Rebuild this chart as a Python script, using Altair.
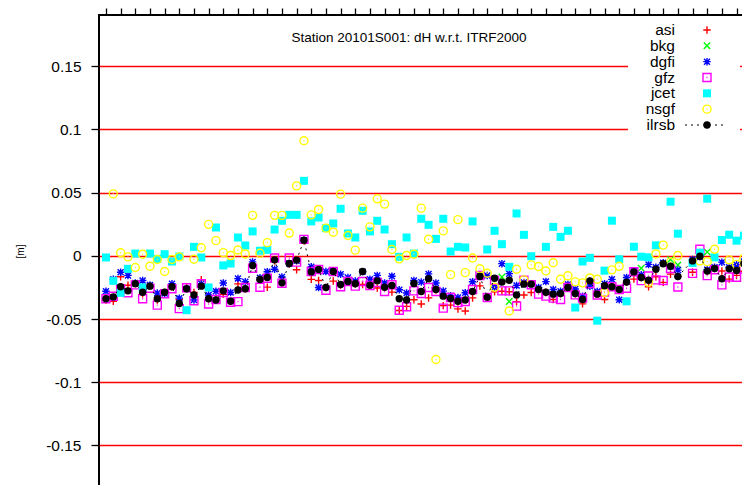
import altair as alt
import pandas as pd

# ---------------- data ----------------
weeks = list(range(88))

asi = [-0.035, -0.036, -0.0165, -0.0233, -0.022, -0.03, -0.024, -0.035, -0.029, -0.0245,
       -0.0345, -0.0245, -0.029, -0.019, -0.034, -0.035, -0.0305, -0.036, -0.0222, -0.026,
       -0.0077, -0.019, -0.0248, -0.004, -0.0214, -0.0065, -0.011, 0.012, -0.0186, -0.0195,
       -0.025, -0.02, -0.023, -0.0205, -0.022, -0.0227, -0.0232, -0.0255, -0.025, -0.0287,
       -0.0432, -0.04, -0.0347, -0.0381, -0.0333, -0.027, -0.0394, -0.039, -0.042, -0.0437,
       -0.0333, -0.0238, -0.033, -0.0285, -0.028, -0.0284, -0.0362, -0.031, -0.029, -0.0266,
       -0.0288, -0.0345, -0.03, -0.025, -0.03, -0.038, -0.02, -0.0303, -0.0345, -0.0245,
       -0.0266, -0.021, -0.0184, -0.0171, -0.0245, -0.0166, -0.021, -0.0145, -0.0163, None,
       -0.013, -0.0003, -0.0121, -0.01, -0.012, -0.0184, -0.0155, -0.0122]

bkg_weeks = [54, 55, 73, 77, 78, 82]
bkg = [-0.0168, -0.0362, -0.0099, -0.003, -0.0072, 0.003]

dgfi = [-0.028, -0.0185, -0.013, -0.0155, -0.0215, -0.0195, -0.023, -0.0295, -0.0298, -0.022,
        -0.0335, -0.0261, -0.035, -0.022, -0.031, -0.028, -0.0215, -0.029, -0.018, -0.0205,
        -0.0048, -0.0173, -0.0126, -0.0106, -0.0168, -0.0061, -0.004, 0.0124, -0.0087, -0.025,
        -0.0124, -0.012, -0.0145, -0.0171, -0.02, -0.0125, -0.0185, -0.0155, -0.0214, -0.0162,
        -0.0268, -0.0294, -0.0195, -0.0208, -0.0143, -0.0215, -0.0279, -0.0315, -0.033, -0.0292,
        -0.0205, -0.016, -0.0155, -0.0249, -0.0062, -0.0141, -0.0234, -0.021, -0.022, -0.025,
        -0.0204, -0.0267, -0.028, -0.0225, -0.0262, -0.032, -0.024, -0.0282, -0.022, -0.0186,
        -0.0347, -0.0171, -0.012, -0.015, -0.0068, -0.009, -0.0055, -0.0085, -0.0113, None,
        -0.0029, -0.001, -0.011, -0.009, -0.005, -0.009, -0.0071, -0.0045]

gfz = [-0.034, -0.032, -0.026, -0.0292, -0.023, -0.034, -0.0256, -0.039, -0.03, -0.026,
       -0.0418, -0.0252, -0.0355, -0.022, -0.0381, -0.0345, -0.029, -0.0367, -0.0362, -0.025,
       -0.0098, -0.0249, -0.0177, -0.0017, -0.0217, -0.0017, -0.005, 0.013, -0.0124, -0.0108,
       -0.0272, -0.0124, -0.0245, -0.0203, -0.024, -0.0203, -0.0235, -0.021, -0.0282, -0.0229,
       -0.043, -0.0403, -0.0277, -0.0298, -0.025, -0.0282, -0.0414, -0.033, -0.037, -0.0361,
       -0.0266, -0.0156, -0.033, -0.0193, -0.0277, -0.0277, -0.0398, -0.0193, -0.0229, -0.0303,
       -0.0319, -0.0335, -0.0345, -0.025, -0.0309, -0.0335, -0.022, -0.031, -0.0287, -0.0245,
       -0.0266, -0.0256, -0.0126, -0.0196, -0.016, -0.019, -0.0195, -0.01, -0.0247, None,
       -0.0139, 0.0052, -0.0157, -0.011, -0.023, -0.0168, -0.017, -0.0104]

jcet = [-0.0013, -0.0198, -0.0293, -0.0103, 0.0018, -0.025, 0.0018, -0.0024, 0.0013, -0.0045,
        -0.0005, -0.043, 0.0071, -0.0013, -0.025, 0.0224, -0.0076, -0.0061, 0.0145, 0.0082,
        0.0193, 0.004, 0.0047, 0.0208, 0.0277, 0.0324, 0.0324, 0.0593, 0.0272, 0.0303,
        0.0219, 0.0256, 0.0372, 0.0177, 0.0145, 0.0356, 0.0193, 0.0277, 0.0208, 0.0092,
        -0.0008, 0.0145, 0.0018, 0.0293, 0.0245, 0.0134, 0.0293, 0.0034, 0.0071, 0.0066,
        0.0272, None, 0.005, 0.0198, 0.0092, -0.0087, 0.0335, 0.0166, -0.0003, None,
        0.0071, 0.0229, 0.015, 0.0198, -0.0409, -0.0045, -0.0016, -0.0513, -0.0117, 0.0278,
        -0.0027, -0.036, 0.0072, -0.0007, -0.0012, 0.0083, None, 0.0428, 0.0175, None,
        -0.0056, 0.0025, 0.0452, -0.0012, 0.0125, 0.0167, 0.012, 0.016]

nsgf = [None, 0.049, 0.0024, -0.0008, -0.0092, 0.0013, -0.0082, -0.0029, -0.0124, -0.0029,
        -0.0008, None, -0.0027, 0.0064, 0.0249, 0.012, 0.0025, 0.0002, 0.0046, 0.0015,
        0.032, 0.002, 0.0104, 0.032, 0.032, 0.018, 0.0553, 0.091, 0.0324, 0.0367,
        0.0219, 0.0187, 0.0488, 0.0161, 0.0045, 0.0377, 0.0229, 0.0451, 0.0409, 0.005,
        -0.0024, 0.0003, 0.0013, 0.0377, 0.0131, -0.082, 0.0197, -0.0149, 0.0286, -0.0133,
        -0.0017, -0.0102, -0.0138, -0.0249, None, -0.0436, -0.0106, -0.019, -0.0072, -0.0085,
        -0.012, -0.0055, -0.0185, -0.0158, -0.0206, -0.0214, -0.0175, -0.0185, -0.029, -0.0111,
        -0.0083, None, None, None, -0.021, 0.0015, 0.0085, -0.005, 0.0002, None,
        None, -0.004, -0.0046, 0.0052, None, -0.0032, -0.0068, -0.002]

ilrsb = [-0.034, -0.0325, -0.0245, -0.0277, -0.022, -0.0288, -0.024, -0.034, -0.0288, -0.0245,
         -0.0377, -0.026, -0.031, -0.024, -0.034, -0.035, -0.0277, -0.036, -0.027, -0.026,
         -0.0077, -0.0187, -0.0171, -0.0032, -0.0214, -0.0061, -0.0034, 0.0124, -0.0127, -0.0108,
         -0.025, -0.0124, -0.0227, -0.0203, -0.0221, -0.0124, -0.0232, -0.0198, -0.0248, -0.0235,
         -0.034, -0.035, -0.0219, -0.0282, -0.0182, -0.0266, -0.0319, -0.0337, -0.036, -0.035,
         -0.0282, -0.0163, -0.0327, -0.0177, -0.0208, -0.0193, -0.0309, -0.0224, -0.0224, -0.0266,
         -0.0288, -0.0303, -0.0298, -0.025, -0.0298, -0.0345, -0.0198, -0.0303, -0.0237, -0.0245,
         -0.0266, -0.0208, -0.0127, -0.0171, -0.0193, -0.0106, -0.0063, -0.0082, -0.0163, None,
         -0.004, -0.0003, -0.0121, -0.01, -0.0182, -0.0103, -0.0116, -0.0061]

series_names = ["asi", "bkg", "dgfi", "gfz", "jcet", "nsgf", "ilrsb"]
y_ticks = [-0.15, -0.1, -0.05, 0, 0.05, 0.1, 0.15]
x_ticks = list(range(0, 88, 2))
title_text = "Station 20101S001: dH w.r.t. ITRF2000"

# ---------------- styling ----------------
FONT = "Liberation Sans"
PLUS = "M-1,0L1,0M0,-1L0,1"
XSHAPE = "M-1,-1L1,1M-1,1L1,-1"
STAR = "M-1,0L1,0M0,-1L0,1M-0.8,-0.8L0.8,0.8M-0.8,0.8L0.8,-0.8"
SQDOT = "M-1,-1L1,-1L1,1L-1,1Z M-0.12,0L0.12,0"
CIRCDOT = "M-1,0A1,1,0,1,1,1,0A1,1,0,1,1,-1,0Z M-0.12,0L0.12,0"

styles = {
    "asi":  dict(shape=PLUS, filled=False, color="#ff0000", size=56),
    "bkg":  dict(shape=XSHAPE, filled=False, color="#00ff00", size=42),
    "dgfi": dict(shape=STAR, filled=False, color="#0000ff", size=56),
    "gfz":  dict(shape=SQDOT, filled=False, color="#ff00ff", size=64),
    "jcet": dict(shape="square", filled=True, color="#00ffff", size=64),
    "nsgf": dict(shape=CIRCDOT, filled=False, color="#ffff00", size=64),
    "ilrsb": dict(shape="circle", filled=True, color="#000000", size=55),
}

xscale = alt.Scale(domain=[-0.95, 87.7], nice=False, zero=False)
yscale = alt.Scale(domain=[-0.1892, 0.1905], nice=False, zero=False)


def frame(xs, vals):
    df = pd.DataFrame({"week": xs, "value": vals})
    return df.dropna()


def pmark(name):
    st = styles[name]
    kw = dict(shape=st["shape"], filled=st["filled"], color=st["color"], size=st["size"], opacity=1)
    if not st["filled"]:
        kw["strokeWidth"] = 1.4
    return kw


X_ENC = alt.X("week:Q", scale=xscale,
              axis=alt.Axis(orient="top", values=x_ticks, labels=False, title=None, domain=False,
                            grid=False, ticks=True, tickSize=7, tickWidth=1.3, tickColor="black"))
Y_ENC = alt.Y("value:Q", scale=yscale,
              axis=alt.Axis(values=y_ticks, labelExpr="toString(datum.value)", tickSize=8,
                            tickWidth=1.3, tickColor="black", domain=False, grid=True,
                            gridColor="#ff0000", gridWidth=1.6, gridOpacity=1,
                            labelFont=FONT, labelFontSize=15.5, labelColor="black", labelPadding=10,
                            title="[m]", titleFont=FONT, titleFontSize=10, titleFontWeight="normal",
                            titleColor="black", titleX=-79, titleY=236, titleAngle=270,
                            titleAlign="center", titleBaseline="middle"))

data_map = {
    "asi": frame(weeks, asi),
    "bkg": frame(bkg_weeks, bkg),
    "dgfi": frame(weeks, dgfi),
    "gfz": frame(weeks, gfz),
    "jcet": frame(weeks, jcet),
    "nsgf": frame(weeks, nsgf),
    "ilrsb": frame(weeks, ilrsb),
}

data_layers = []
for name in series_names:
    if name == "ilrsb":
        data_layers.append(
            alt.Chart(data_map[name]).mark_line(color="black", strokeWidth=1, strokeDash=[2, 4])
            .encode(x=X_ENC, y=Y_ENC)
        )
    data_layers.append(alt.Chart(data_map[name]).mark_point(**pmark(name)).encode(x=X_ENC, y=Y_ENC))

main = alt.layer(*data_layers)

# ---------------- legend / title (inside plot) ----------------
leg_df = pd.DataFrame({"name": series_names, "row": list(range(len(series_names)))})
leg_y = alt.Y("row:Q", scale=alt.Scale(domain=[0, 6], range=[15, 110], nice=False, zero=False),
              axis=None)

legend_layers = [
    alt.Chart(leg_df).transform_filter(alt.datum.name == "asi").mark_rect(color="white", opacity=1)
    .encode(x=alt.value(529), x2=alt.value(641), y=alt.value(2), y2=alt.value(119)),
    alt.Chart(leg_df).mark_text(align="right", baseline="middle", font=FONT, fontSize=15.5, color="black")
    .encode(x=alt.value(576), y=leg_y, text="name:N"),
    alt.Chart(leg_df).transform_filter(alt.datum.name == "ilrsb")
    .mark_rule(color="black", strokeWidth=1, strokeDash=[2, 4])
    .encode(x=alt.value(586), x2=alt.value(628), y=leg_y),
]
for name in series_names:
    legend_layers.append(
        alt.Chart(leg_df).transform_filter(alt.datum.name == name)
        .mark_point(**pmark(name)).encode(x=alt.value(608), y=leg_y)
    )
legend_layers.append(
    alt.Chart(pd.DataFrame({"t": [title_text]}))
    .mark_text(align="center", baseline="middle", font=FONT, fontSize=13.5, color="black")
    .encode(x=alt.value(310), y=alt.value(22.5), text="t:N")
)
legend = alt.layer(*legend_layers)

# The plot runs past the right and bottom edges of the window, as in the reference;
# negative padding keeps the page width inside 750 (the overflow is clipped).
chart = (
    alt.layer(main, legend)
    .resolve_scale(y="independent")
    .properties(width=650, height=480, autosize=alt.AutoSizeParams(type="none"),
                padding={"left": 91, "top": 7, "right": -7, "bottom": -10}, background="white")
    .configure_view(stroke="black", strokeWidth=2)
)

chart.save("out.html", embed_options={"renderer": "svg", "actions": False})
